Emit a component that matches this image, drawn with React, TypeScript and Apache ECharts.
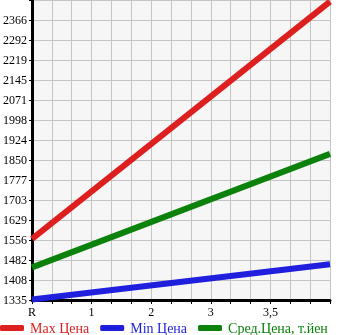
import React, { useEffect, useRef } from "react";
import * as echarts from "echarts";

const yTickLabels = ["1335", "1408", "1482", "1556", "1629", "1703", "1777", "1850", "1924", "1998", "2071", "2145", "2219", "2292", "2366", ""];
const xTickLabels = ["R", "", "", "1", "", "", "2", "", "", "3", "", "", "3,5", "", "", ""];
const yMin = 1335;
const yStep = (2366 - 1335) / 14;
const xPositions = [0, 15];
const maxPrice = [1560, 2434];
const minPrice = [1337, 1467];
const avgPrice = [1455, 1873];
const seriesNames = ["Max Цена", "Min Цена", "Сред.Цена, т.йен"];
const seriesColors = ["#dd1f1f", "#1f1fdd", "#0c820c"];

export default function App() {
  const ref = useRef<HTMLDivElement>(null);
  useEffect(() => {
    const chart = echarts.init(ref.current!, null, { renderer: "svg" });
    const values = [maxPrice, minPrice, avgPrice];
    chart.setOption({
      animation: false,
      textStyle: { fontFamily: "Liberation Serif" },
      grid: {
        left: 30, right: 15, top: 0, bottom: 35,
        show: true, backgroundColor: "#f6f6f6", borderWidth: 0,
      },
      xAxis: {
        type: "value", min: 0, max: 15, interval: 1,
        axisLine: { show: true, lineStyle: { color: "#000", width: 3 } },
        axisTick: { show: true, length: 4, lineStyle: { color: "#000" } },
        axisLabel: {
          margin: 6, color: "#000", fontSize: 12, fontFamily: "Liberation Serif",
          showMaxLabel: true, showMinLabel: true,
          formatter: (v: number) => xTickLabels[Math.round(v)] ?? "",
        },
        splitLine: { show: true, lineStyle: { color: "#c4c4c4", width: 1 } },
      },
      yAxis: [
        {
          type: "value", min: 0, max: 15, interval: 1,
          axisLine: { show: true, lineStyle: { color: "#000", width: 3 } },
          axisTick: { show: true, length: 3, lineStyle: { color: "#000" } },
          axisLabel: {
            margin: 5, color: "#000", fontSize: 12, fontFamily: "Liberation Serif",
            showMaxLabel: true, showMinLabel: true,
            formatter: (v: number) => yTickLabels[Math.round(v)] ?? "",
          },
          splitLine: { show: true, lineStyle: { color: "#c4c4c4", width: 1 } },
        },
        { type: "value", min: yMin, max: yMin + 15 * yStep, show: false },
      ],
      legend: {
        left: 0, top: 321, padding: [0, 0, 0, 0], itemGap: 11, itemWidth: 24, itemHeight: 6,
        icon: "roundRect",
        textStyle: { fontSize: 14, fontFamily: "Liberation Serif", lineHeight: 14, padding: [0, 0, 0, 1] },
        data: seriesNames.map((n, i) => ({ name: n, textStyle: { color: seriesColors[i] } })),
      },
      series: seriesNames.map((n, i) => ({
        name: n, type: "line", yAxisIndex: 1, showSymbol: false, symbol: "none",
        color: seriesColors[i],
        lineStyle: { width: 6, color: seriesColors[i] },
        data: xPositions.map((x, j) => [x, values[i][j]]),
      })),
    });
    return () => chart.dispose();
  }, []);
  return <div ref={ref} style={{ position: "fixed", left: 0, top: 0, width: 345, height: 335 }} />;
}
